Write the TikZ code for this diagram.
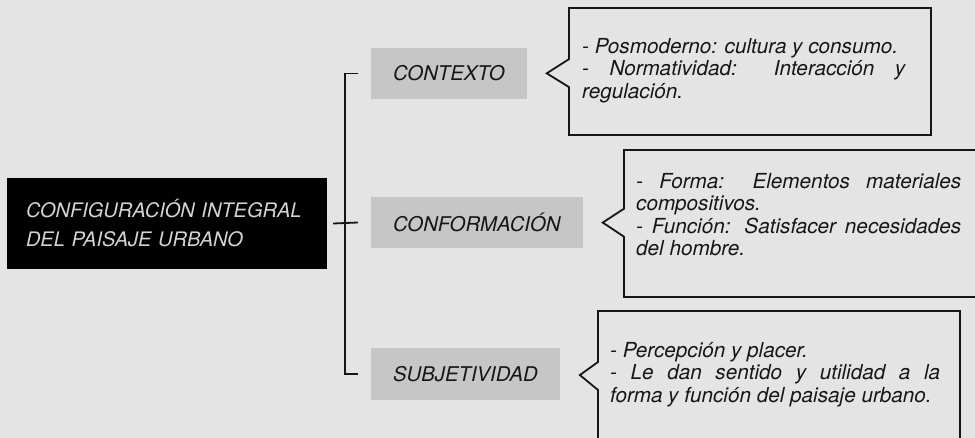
\documentclass[tikz,border=0pt]{standalone}
\usepackage{fontspec}
\setmainfont{TeX Gyre Heros}
\usepackage{tikz}
\usetikzlibrary{shapes.callouts}
\setlength{\parindent}{0pt}
\hyphenpenalty=10000
\hbadness=10000
\definecolor{paper}{HTML}{E4E4E4}
\definecolor{tagfill}{HTML}{C6C6C6}
\definecolor{ink}{HTML}{161616}
\definecolor{chalk}{HTML}{D4D4D4}
\tikzstyle{headbox}=[fill=black, text=chalk, minimum width=320pt, minimum height=91pt, text width=282pt, inner xsep=19pt, align=left, font=\fontsize{20}{29}\selectfont\itshape]
\tikzstyle{tagbox}=[fill=tagfill, text=ink, anchor=west, minimum height=51pt, inner xsep=22pt, font=\fontsize{20.3}{24}\selectfont\itshape]
\tikzstyle{notebox}=[rectangle callout, draw=ink, line width=1.8pt, inner sep=0pt, callout pointer width=28pt, callout pointer shorten=20pt]
\tikzstyle{notetext}=[anchor=north west, inner sep=0pt, align=justify, text=ink, font=\fontsize{20.7}{22.5}\selectfont\itshape]
\tikzstyle{bracket}=[draw=ink, line width=1.8pt]

\begin{document}
\begin{tikzpicture}[x=1pt, y=-1pt]
	\useasboundingbox (0,0) rectangle (975,438);
	\clip (0,0) rectangle (975,438);
	\fill[fill=paper] (0,0) rectangle (975,438);
	\begin{scope}
		\node (0) at (167, 223.5)[headbox] {CONFIGURACIÓN INTEGRAL\\DEL PAISAJE URBANO};

		\node (1) at (371, 73.5)[tagbox] {CONTEXTO};
		\node (2) at (371, 222.5)[tagbox] {CONFORMACIÓN};
		\node (3) at (371, 374)[tagbox] {SUBJETIVIDAD};

		\node (4) at (750, 71.5)[notebox, minimum width=362pt, minimum height=127pt, callout absolute pointer={(1.east)}] {};
		\node (5) at (807, 223.5)[notebox, minimum width=366pt, minimum height=147pt, callout absolute pointer={(2.east)}] {};
		\node (6) at (779, 385.5)[notebox, minimum width=362pt, minimum height=149pt, callout absolute pointer={(3.east)}] {};

		\node (7) at (582, 38)[notetext, text width=323pt] {- Posmoderno: cultura y consumo.\par - Normatividad: Interacción y\linebreak regulación.};
		\node (8) at (636, 173)[notetext, text width=325pt] {- Forma: Elementos materiales\linebreak compositivos.\par - Función: Satisfacer necesidades\linebreak del hombre.};
		\node (9) at (610, 342)[notetext, text width=330pt] {- Percepción y placer.\par - Le dan sentido y utilidad a la\linebreak forma y función del paisaje urbano.};
	\end{scope}
	\begin{scope}
		\draw [bracket] ([xshift=-13pt]1.west) -- ++(-13pt,0) |- ([xshift=-13pt]3.west);
		\draw [bracket] ([xshift=6pt]0.east) -- ([xshift=-13pt]2.west);
	\end{scope}
\end{tikzpicture}
\end{document}
